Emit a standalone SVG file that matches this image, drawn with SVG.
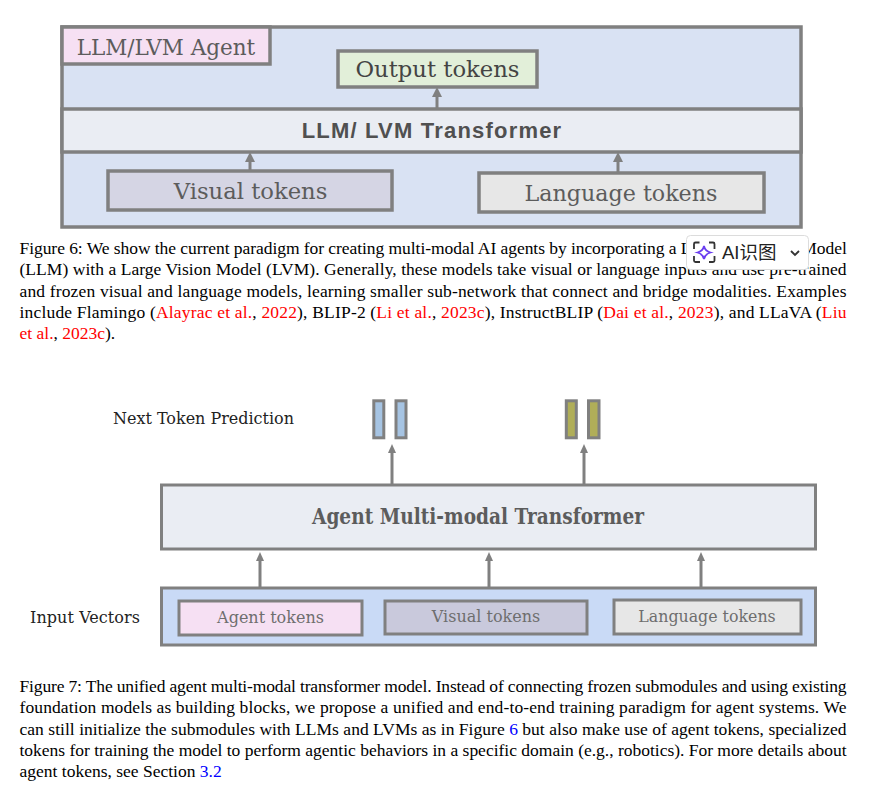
<svg xmlns="http://www.w3.org/2000/svg" width="870" height="790" viewBox="0 0 870 790">
<style>
.b{stroke:#808080;stroke-width:3.5}
.t{stroke:#808080;stroke-width:3}
.l{font-family:"DejaVu Serif","Liberation Serif",serif;fill:#5c5c5c;text-anchor:middle}
.m{fill:#6e6e6e}
.s{font-family:"DejaVu Serif","Liberation Serif",serif;fill:#222;font-size:16px}
.c{font-family:"Liberation Serif",serif;font-size:17.5px;fill:#000}
.r{fill:#f00}.u{fill:#00f}
.a{stroke:#808080;stroke-width:3;fill:none}
.h{fill:#808080}
</style>
<rect width="870" height="790" fill="#fff"/>
<g id="fig6-frame"><rect x="62" y="27" width="739" height="200" fill="#d9e2f3" class="b"/></g>
<g id="llm-lvm-agent"><rect x="62" y="27" width="208" height="37" fill="#f6e0f3" class="b"/><text x="166" y="55" class="l" font-size="21.5">LLM/LVM Agent</text></g>
<g id="output-tokens"><rect x="338" y="51" width="199" height="36" fill="#e2efd9" class="b"/><text x="437.500" y="77" class="l" font-size="22.7" style="fill:#444">Output tokens</text></g>
<g id="llm-lvm-transformer"><rect x="62" y="109" width="739" height="43" fill="#eaedf3" class="b"/><text x="432" y="138" font-family="Liberation Sans,sans-serif" font-weight="700" font-size="22" fill="#505050" text-anchor="middle" letter-spacing="1.2">LLM/ LVM Transformer</text></g>
<g id="visual-tokens-top"><rect x="108" y="171" width="284" height="39" fill="#d5d5e4" class="b"/><text x="250.500" y="199" class="l" font-size="22.7">Visual tokens</text></g>
<g id="language-tokens-top"><rect x="479" y="173" width="285" height="39" fill="#e7e7e7" class="b"/><text x="621" y="201" class="l" font-size="22.2">Language tokens</text></g>
<g id="connectors">
<g class="a"><path d="M437 108V94"/><path d="M250 170V159"/><path d="M618 172V159"/>
<path d="M392 485V451"/><path d="M584 485V451"/><path d="M260 587V560"/><path d="M489 587V560"/><path d="M701 587V560"/></g>
<g class="h"><path d="M437 87l5 10h-10z"/><path d="M250 152l5 10h-10z"/><path d="M618 152l5 10h-10z"/>
<path d="M392 444l4 9h-8z"/><path d="M584 444l4 9h-8z"/><path d="M260 552l4 9h-8z"/><path d="M489 552l4 9h-8z"/><path d="M701 552l4 9h-8z"/></g>
</g>
<g id="caption-6" class="c">
<text x="19.500" y="254" textLength="672">Figure 6: We show the current paradigm for creating multi-modal AI agents by incorporating a L</text>
<text x="847" y="254" text-anchor="end">Model</text>
<text x="19.500" y="275" textLength="827">(LLM) with a Large Vision Model (LVM). Generally, these models take visual or language inputs and use pre-trained</text>
<text x="19.500" y="297" textLength="827">and frozen visual and language models, learning smaller sub-network that connect and bridge modalities. Examples</text>
<text x="19.500" y="318" textLength="827">include Flamingo (<tspan class="r">Alayrac et al.</tspan>, <tspan class="r">2022</tspan>), BLIP-2 (<tspan class="r">Li et al.</tspan>, <tspan class="r">2023c</tspan>), InstructBLIP (<tspan class="r">Dai et al.</tspan>, <tspan class="r">2023</tspan>), and LLaVA (<tspan class="r">Liu</tspan></text>
<text x="19.500" y="339"><tspan class="r">et al.</tspan>, <tspan class="r">2023c</tspan>).</text>
</g>
<g id="ai-widget"><rect x="686.500" y="235.500" width="122" height="34" rx="4" fill="#fff" stroke="#dcdcdc"/>
<path d="M694 249v-5a1.500 1.500 0 0 1 1.500-1.500h4M709 242.500h4a1.500 1.500 0 0 1 1.500 1.500v5M714.500 256v4.500a1.500 1.500 0 0 1-1.500 1.500h-4M700 262h-4.500a1.500 1.500 0 0 1-1.500-1.500v-4.500" fill="none" stroke="#333" stroke-width="1.800"/>
<path d="M704 246q1 5 6.500 6.500q-5.500 1.500-6.500 6.500q-1-5-6.500-6.500q5.500-1.500 6.500-6.500z" fill="none" stroke="#6a3df0" stroke-width="1.800"/>
<text x="722" y="259" font-family="Liberation Sans,Noto Sans CJK SC,sans-serif" font-size="18.500" fill="#222">AI识图</text>
<path d="M791 251l4 4 4-4" fill="none" stroke="#333" stroke-width="1.800"/></g>
<g id="next-token-label"><text x="113" y="424" class="s" textLength="181">Next Token Prediction</text></g>
<g id="pred-blue-1"><rect x="373.800" y="400.800" width="10" height="37" fill="#a6c4e3" class="t"/></g>
<g id="pred-blue-2"><rect x="396" y="400.800" width="10" height="37" fill="#a6c4e3" class="t"/></g>
<g id="pred-olive-1"><rect x="566.300" y="400.800" width="10" height="37" fill="#b0ae58" class="t"/></g>
<g id="pred-olive-2"><rect x="588.500" y="400.800" width="10.500" height="37" fill="#b0ae58" class="t"/></g>
<g id="agent-transformer"><rect x="161.500" y="485" width="654" height="64" fill="#eaedf3" class="t"/><text x="478" y="524" class="l" font-size="21.500" font-weight="700" textLength="332" lengthAdjust="spacingAndGlyphs">Agent Multi-modal Transformer</text></g>
<g id="input-frame"><rect x="161.500" y="588" width="654" height="57" fill="#c9daf6" class="t"/></g>
<g id="agent-tokens"><rect x="179" y="601" width="183" height="34" fill="#f6e0f3" class="t"/><text x="270.500" y="623" class="l m" font-size="16" style="fill:#6e6e6e">Agent tokens</text></g>
<g id="visual-tokens"><rect x="385" y="601" width="202" height="33" fill="#c9c9dc" class="t"/><text x="486" y="622" class="l" font-size="16" style="fill:#6e6e6e">Visual tokens</text></g>
<g id="language-tokens"><rect x="614" y="600" width="187" height="34" fill="#e7e7e7" class="t"/><text x="707" y="622" class="l" font-size="15.800" style="fill:#6e6e6e">Language tokens</text></g>
<g id="input-label"><text x="30" y="623" class="s" textLength="110">Input Vectors</text></g>
<g id="caption-7" class="c">
<text x="19.500" y="692" textLength="827">Figure 7: The unified agent multi-modal transformer model. Instead of connecting frozen submodules and using existing</text>
<text x="19.500" y="713" textLength="827">foundation models as building blocks, we propose a unified and end-to-end training paradigm for agent systems. We</text>
<text x="19.500" y="735" textLength="827">can still initialize the submodules with LLMs and LVMs as in Figure <tspan class="u">6</tspan> but also make use of agent tokens, specialized</text>
<text x="19.500" y="756" textLength="827">tokens for training the model to perform agentic behaviors in a specific domain (e.g., robotics). For more details about</text>
<text x="19.500" y="777">agent tokens, see Section <tspan class="u">3.2</tspan></text>
</g>
</svg>
